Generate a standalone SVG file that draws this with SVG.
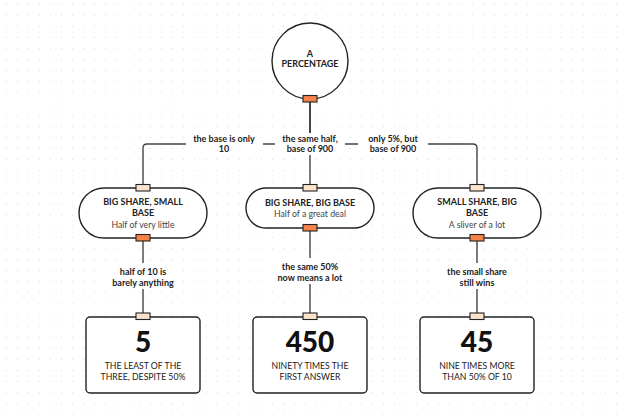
<svg xmlns="http://www.w3.org/2000/svg" width="620" height="415" viewBox="0 0 620 415">
<defs>
<pattern id="dots" x="0" y="0" width="11.1" height="11.1" patternUnits="userSpaceOnUse">
<circle cx="6" cy="4" r="0.55" fill="#d2d2d2"/>
</pattern>
</defs>
<style>
.shape{fill:#fff;stroke:#222;stroke-width:1.4}
.conn{fill:none;stroke:#444;stroke-width:1.4}
.pout{fill:#F5834A;stroke:#222;stroke-width:1.1}
.pin{fill:#FCE4CC;stroke:#222;stroke-width:1.1}
.lbg{fill:#fff}
.lbl{font-family:Lato,"Noto Sans",sans-serif;font-weight:700;font-size:9px;fill:#222;text-anchor:middle}
.ttl{font-family:Lato,"Noto Sans",sans-serif;font-weight:700;font-size:9px;fill:#222;text-anchor:middle}
.sub{font-family:Lato,"Noto Sans",sans-serif;font-size:8.7px;fill:#444;text-anchor:middle}
.num{font-family:Lato,"Noto Sans",sans-serif;font-weight:900;font-size:28px;fill:#111;text-anchor:middle}
.cap{font-family:Lato,"Noto Sans",sans-serif;font-size:8.7px;fill:#222;text-anchor:middle}
</style>
<rect width="620" height="415" fill="#fff"/>
<rect width="620" height="415" fill="url(#dots)"/>
<g id="connectors">
<path class="conn" d="M310 102 V184"/>
<path class="conn" d="M310 102 V144 H147 Q143 144 143 148 V184"/>
<path class="conn" d="M310 102 V144 H473 Q477 144 477 148 V184"/>
<path class="conn" d="M143 241 V313"/>
<path class="conn" d="M310 231 V313"/>
<path class="conn" d="M477 241 V313"/>
<rect class="lbg" x="186" y="133" width="77" height="22"/>
<text class="lbl" x="224" y="142">the base is only</text>
<text class="lbl" x="224" y="152">10</text>
<rect class="lbg" x="275" y="133" width="70" height="22"/>
<text class="lbl" x="310" y="142">the same half,</text>
<text class="lbl" x="310" y="152">base of 900</text>
<rect class="lbg" x="358" y="133" width="70" height="22"/>
<text class="lbl" x="393" y="142">only 5%, but</text>
<text class="lbl" x="393" y="152">base of 900</text>
<rect class="lbg" x="103" y="263" width="80" height="26"/>
<text class="lbl" x="143" y="275">half of 10 is</text>
<text class="lbl" x="143" y="286">barely anything</text>
<rect class="lbg" x="270" y="258" width="80" height="26"/>
<text class="lbl" x="310" y="270">the same 50%</text>
<text class="lbl" x="310" y="281">now means a lot</text>
<rect class="lbg" x="437" y="263" width="80" height="26"/>
<text class="lbl" x="477" y="275">the small share</text>
<text class="lbl" x="477" y="286">still wins</text>
</g>
<g id="root">
<circle class="shape" cx="310" cy="61" r="38"/>
<text class="ttl" x="310" y="57">A</text>
<text class="ttl" x="310" y="67">PERCENTAGE</text>
<rect class="pout" x="303" y="95.5" width="14" height="6.5"/>
</g>
<g id="big-small">
<rect class="shape" x="79" y="188" width="128" height="50" rx="25"/>
<text class="ttl" x="143" y="205">BIG SHARE, SMALL</text>
<text class="ttl" x="143" y="216">BASE</text>
<text class="sub" x="143" y="228">Half of very little</text>
<rect class="pin" x="136" y="184.5" width="14" height="6.5"/>
<rect class="pout" x="136" y="234.5" width="14" height="6.5"/>
</g>
<g id="big-big">
<rect class="shape" x="246" y="188" width="128" height="40" rx="20"/>
<text class="ttl" x="310" y="206">BIG SHARE, BIG BASE</text>
<text class="sub" x="310" y="217">Half of a great deal</text>
<rect class="pin" x="303" y="184.5" width="14" height="6.5"/>
<rect class="pout" x="303" y="224.5" width="14" height="6.5"/>
</g>
<g id="small-big">
<rect class="shape" x="413" y="188" width="128" height="50" rx="25"/>
<text class="ttl" x="477" y="205">SMALL SHARE, BIG</text>
<text class="ttl" x="477" y="216">BASE</text>
<text class="sub" x="477" y="228">A sliver of a lot</text>
<rect class="pin" x="470" y="184.5" width="14" height="6.5"/>
<rect class="pout" x="470" y="234.5" width="14" height="6.5"/>
</g>
<g id="result-5">
<rect class="shape" x="86" y="317" width="114" height="76" rx="4"/>
<text class="num" x="143" y="352">5</text>
<text class="cap" x="143" y="369">THE LEAST OF THE</text>
<text class="cap" x="143" y="380">THREE, DESPITE 50%</text>
<rect class="pin" x="136" y="313" width="14" height="6.5"/>
</g>
<g id="result-450">
<rect class="shape" x="253" y="317" width="114" height="76" rx="4"/>
<text class="num" x="310" y="352">450</text>
<text class="cap" x="310" y="369">NINETY TIMES THE</text>
<text class="cap" x="310" y="380">FIRST ANSWER</text>
<rect class="pin" x="303" y="313" width="14" height="6.5"/>
</g>
<g id="result-45">
<rect class="shape" x="420" y="317" width="114" height="76" rx="4"/>
<text class="num" x="477" y="352">45</text>
<text class="cap" x="477" y="369">NINE TIMES MORE</text>
<text class="cap" x="477" y="380">THAN 50% OF 10</text>
<rect class="pin" x="470" y="313" width="14" height="6.5"/>
</g>
</svg>
